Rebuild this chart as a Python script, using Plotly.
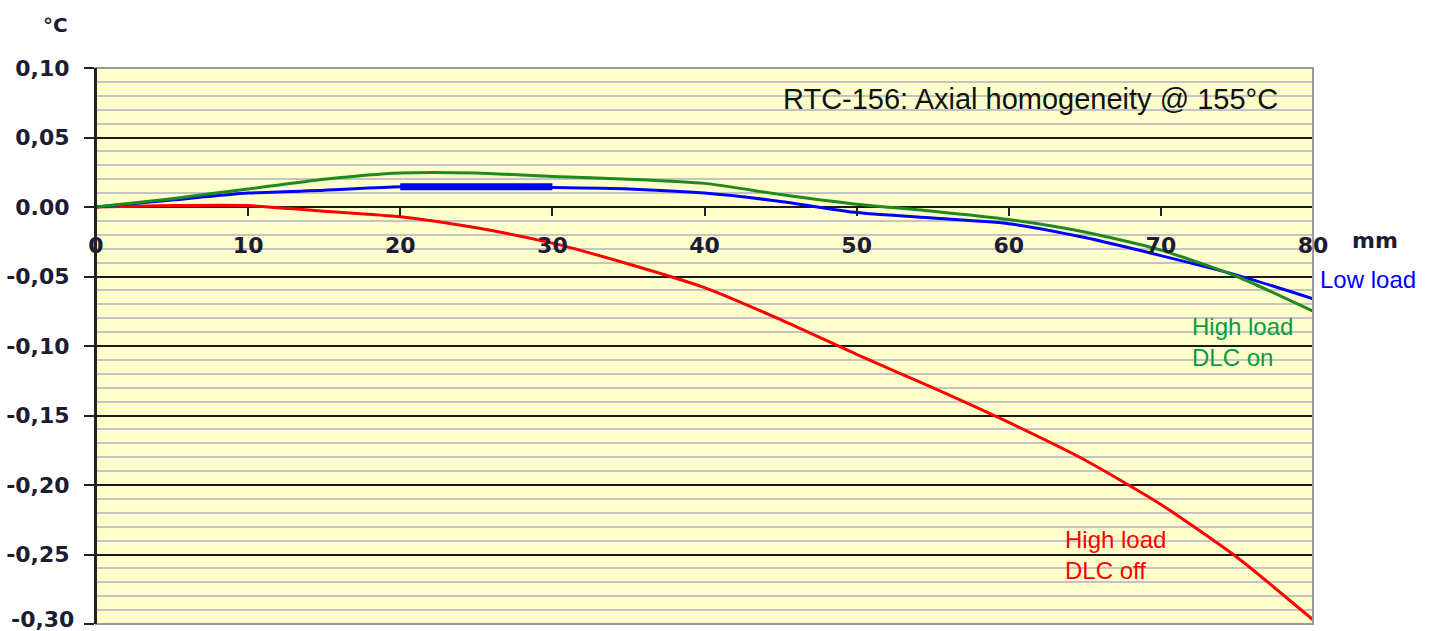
import plotly.graph_objects as go

# Data (mm position vs temperature deviation in °C)
x_mm = [0, 5, 10, 15, 20, 25, 30, 35, 40, 45, 50, 55, 60, 65, 70, 75, 80]
low_load = [0.0, 0.005, 0.010, 0.012, 0.0145, 0.0145, 0.014, 0.013, 0.010, 0.004,
            -0.004, -0.008, -0.012, -0.022, -0.035, -0.049, -0.066]
high_dlc_on = [0.0, 0.006, 0.013, 0.020, 0.0245, 0.0245, 0.022, 0.020, 0.017, 0.009,
               0.002, -0.003, -0.009, -0.018, -0.031, -0.050, -0.075]
high_dlc_off = [0.0, 0.001, 0.001, -0.003, -0.007, -0.015, -0.026, -0.041, -0.058, -0.081,
                -0.106, -0.130, -0.155, -0.182, -0.214, -0.252, -0.297]
highlight_x = [20, 30]
highlight_y = [0.0145, 0.0145]

y_ticks = [0.10, 0.05, 0.0, -0.05, -0.10, -0.15, -0.20, -0.25, -0.30]
y_tick_text = ["0,10", "0,05", "0.00", "-0,05", "-0,10", "-0,15", "-0,20", "-0,25", "-0,30"]
x_ticks = [0, 10, 20, 30, 40, 50, 60, 70, 80]

FONT = "Liberation Sans, Arial, Helvetica, sans-serif"
TICK_FONT = "DejaVu Sans, Verdana, sans-serif"
TICK_COLOR = "#1c1c34"

fig = go.Figure()
fig.add_trace(go.Scatter(x=x_mm, y=high_dlc_off, mode="lines",
                         line=dict(color="#ff0000", width=3, shape="spline", smoothing=0.6),
                         name="High load DLC off", showlegend=False))
fig.add_trace(go.Scatter(x=x_mm, y=low_load, mode="lines",
                         line=dict(color="#0000ff", width=3, shape="spline", smoothing=0.6),
                         name="Low load", showlegend=False))
fig.add_trace(go.Scatter(x=x_mm, y=high_dlc_on, mode="lines",
                         line=dict(color="#1e8a1e", width=3, shape="spline", smoothing=0.6),
                         name="High load DLC on", showlegend=False))
fig.add_trace(go.Scatter(x=highlight_x, y=highlight_y, mode="lines",
                         line=dict(color="#0000ff", width=7),
                         showlegend=False))

fig.update_layout(
    width=1433, height=631,
    margin=dict(l=96, r=120, t=68, b=7),
    paper_bgcolor="white",
    plot_bgcolor="#ffffcc",
    font=dict(family=FONT),
    showlegend=False,
    xaxis=dict(
        range=[0, 80], tickvals=x_ticks, ticktext=[str(v) for v in x_ticks],
        showgrid=False, zeroline=False,
        anchor="free", position=0.75,
        showline=False,
        ticks="outside", ticklen=8, tickwidth=2, tickcolor="#222222",
        ticklabelstandoff=11,
        tickfont=dict(family=TICK_FONT, size=22, color=TICK_COLOR, weight="bold"),
    ),
    yaxis=dict(
        range=[-0.30, 0.10], tickvals=y_ticks, ticktext=y_tick_text,
        showgrid=True, gridcolor="#1a1a1a", gridwidth=2,
        zeroline=True, zerolinecolor="#1a1a1a", zerolinewidth=2,
        minor=dict(dtick=0.01, tick0=0, showgrid=True, gridcolor="#c4c4c4", gridwidth=2, ticks=""),
        showline=True, linecolor="#222222", linewidth=2,
        ticks="outside", ticklen=10, tickwidth=2, tickcolor="#222222",
        ticklabelstandoff=10,
        tickfont=dict(family=TICK_FONT, size=22, color=TICK_COLOR, weight="bold"),
    ),
)

# plot border (gray) on top/right/bottom, black on the left
fig.add_shape(type="rect", xref="paper", yref="paper", x0=0, x1=1, y0=0, y1=1,
              line=dict(color="#9a9a9a", width=2), layer="above")
fig.add_shape(type="line", xref="paper", yref="paper", x0=0, x1=0, y0=0, y1=1,
              line=dict(color="#222222", width=2), layer="above")

# bottom tick label (nudged up slightly so it stays inside the figure)
fig.add_annotation(text=y_tick_text[-1], xref="paper", yref="y", x=0, xshift=-20, y=y_ticks[-1],
                   yshift=5, showarrow=False, xanchor="right", yanchor="middle",
                   font=dict(family=TICK_FONT, size=22, color=TICK_COLOR, weight="bold"))

fig.add_annotation(text="°C", xref="paper", yref="paper", x=-0.0329, y=1.0, yshift=43,
                   showarrow=False, xanchor="center", yanchor="middle",
                   font=dict(family=TICK_FONT, size=20, color=TICK_COLOR, weight="bold"))
fig.add_annotation(text="mm", xref="paper", yref="paper", x=1.0, xshift=62, y=0.75, yshift=-33,
                   showarrow=False, xanchor="center", yanchor="middle",
                   font=dict(family=TICK_FONT, size=22, color=TICK_COLOR, weight="bold"))
fig.add_annotation(text="RTC-156: Axial homogeneity @ 155°C", xref="x", yref="y",
                   x=77.83, y=0.0777, showarrow=False, xanchor="right", yanchor="middle",
                   font=dict(family=FONT, size=29, color="#111111"))
fig.add_annotation(text="Low load", xref="paper", yref="y", x=1.0, xshift=5, y=-0.0518,
                   showarrow=False, xanchor="left", yanchor="middle",
                   font=dict(family=FONT, size=24, color="#0000ff"))
fig.add_annotation(text="High load<br>DLC on", xref="x", yref="y", x=71.9, y=-0.0968,
                   showarrow=False, xanchor="left", yanchor="middle", align="left",
                   font=dict(family=FONT, size=24, color="#0a9a46"))
fig.add_annotation(text="High load<br>DLC off", xref="x", yref="y", x=63.57, y=-0.25,
                   showarrow=False, xanchor="left", yanchor="middle", align="left",
                   font=dict(family=FONT, size=24, color="#ff0000"))

fig.write_html("out.html", config={"displayModeBar": False},
               post_script="document.body.style.margin='0';document.body.style.overflow='hidden';")
